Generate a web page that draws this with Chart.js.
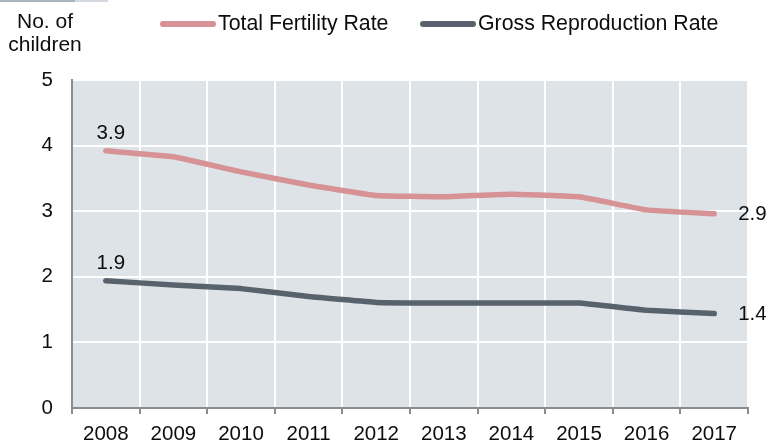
<!DOCTYPE html>
<html>
<head>
<meta charset="utf-8">
<script src="https://cdn.jsdelivr.net/npm/chart.js@4/dist/chart.umd.min.js"></script>
<style>
  html, body { margin: 0; padding: 0; background: #ffffff; }
  #wrap { position: relative; width: 766px; height: 440px; }
  #topbar1 { position: absolute; left: 0; top: 0; width: 75px; height: 2px; background: #a9b3bd; }
  #topbar2 { position: absolute; left: 75px; top: 0; width: 33px; height: 2px; background: #d3d9df; }
</style>
</head>
<body>
<div id="wrap">
  <canvas id="c" width="766" height="440"></canvas>
  <div id="topbar1"></div><div id="topbar2"></div>
</div>
<script>
const years = ['2008','2009','2010','2011','2012','2013','2014','2015','2016','2017'];
const totalFertility = [3.92, 3.83, 3.60, 3.40, 3.24, 3.22, 3.26, 3.22, 3.02, 2.96];
const grossReproduction = [1.94, 1.875, 1.82, 1.70, 1.61, 1.60, 1.60, 1.60, 1.49, 1.44];
const seriesNames = ['Total Fertility Rate', 'Gross Reproduction Rate'];
const startLabels = ['3.9', '1.9'];
const endLabels = ['2.9', '1.4'];
const yTicks = [0, 1, 2, 3, 4, 5];
const yTitle = ['No. of', 'children'];

const FONT = '"Liberation Sans", Arial, sans-serif';
const colors = ['#d69294', '#58626c'];

const bgPlugin = {
  id: 'bg',
  beforeDraw(chart) {
    const { ctx, chartArea: a } = chart;
    ctx.save();
    ctx.fillStyle = '#dee3e7';
    ctx.fillRect(a.left, a.top, a.right - a.left, a.bottom - a.top);
    ctx.restore();
  }
};

const decorPlugin = {
  id: 'decor',
  afterDraw(chart) {
    const ctx = chart.ctx;
    ctx.save();
    ctx.fillStyle = '#0d0d0d';
    ctx.font = '21px ' + FONT;
    ctx.textAlign = 'center';
    ctx.textBaseline = 'middle';
    ctx.fillText(yTitle[0], 45, 22);
    ctx.fillText(yTitle[1], 45, 45);

    // legend
    const legendX = [160, 420];
    ctx.textAlign = 'left';
    ctx.font = '21.3px ' + FONT;
    chart.data.datasets.forEach((ds, i) => {
      ctx.strokeStyle = ds.borderColor;
      ctx.lineWidth = 6;
      ctx.lineCap = 'round';
      ctx.beginPath();
      ctx.moveTo(legendX[i] + 3, 24);
      ctx.lineTo(legendX[i] + 53, 24);
      ctx.stroke();
      ctx.fillStyle = '#0d0d0d';
      ctx.fillText(ds.label, legendX[i] + 58, 24);
    });

    // data labels
    ctx.font = '20.5px ' + FONT;
    chart.data.datasets.forEach((ds, i) => {
      const meta = chart.getDatasetMeta(i);
      const first = meta.data[0];
      const last = meta.data[meta.data.length - 1];
      ctx.textAlign = 'center';
      ctx.textBaseline = 'alphabetic';
      ctx.fillText(startLabels[i], first.x + 5, first.y - 12);
      ctx.textAlign = 'left';
      ctx.textBaseline = 'middle';
      ctx.fillText(endLabels[i], last.x + 24, last.y + 1);
    });
    ctx.restore();
  }
};

new Chart(document.getElementById('c'), {
  type: 'line',
  data: {
    labels: years,
    datasets: [
      { label: seriesNames[0], data: totalFertility, borderColor: colors[0], backgroundColor: colors[0],
        borderWidth: 5.5, pointRadius: 0, tension: 0.1, borderCapStyle: 'round', borderJoinStyle: 'round' },
      { label: seriesNames[1], data: grossReproduction, borderColor: colors[1], backgroundColor: colors[1],
        borderWidth: 5.5, pointRadius: 0, tension: 0.1, borderCapStyle: 'round', borderJoinStyle: 'round' }
    ]
  },
  options: {
    responsive: false,
    animation: false,
    devicePixelRatio: 1,
    layout: { padding: { top: 80, right: 18, left: 0, bottom: 0 } },
    plugins: { legend: { display: false }, tooltip: { enabled: false } },
    scales: {
      x: {
        offset: true,
        grid: { offset: true, color: '#ffffff', lineWidth: 2, drawTicks: true, tickLength: 6, tickColor: '#8c8c8c', tickWidth: 2 },
        border: { display: true, color: '#8c8c8c', width: 2 },
        ticks: { color: '#0d0d0d', font: { family: FONT, size: 20.5 }, padding: 8, maxRotation: 0, autoSkip: false },
        afterFit(scale) { scale.height = 32; }
      },
      y: {
        min: 0, max: 5,
        afterBuildTicks(scale) { scale.ticks = yTicks.map(v => ({ value: v })); },
        grid: { color: '#ffffff', lineWidth: 2, drawTicks: false },
        border: { display: true, color: '#8c8c8c', width: 2 },
        ticks: { color: '#0d0d0d', font: { family: FONT, size: 20.5 }, padding: 19 },
        afterFit(scale) { scale.width = 72; }
      }
    }
  },
  plugins: [bgPlugin, decorPlugin]
});
</script>
</body>
</html>
